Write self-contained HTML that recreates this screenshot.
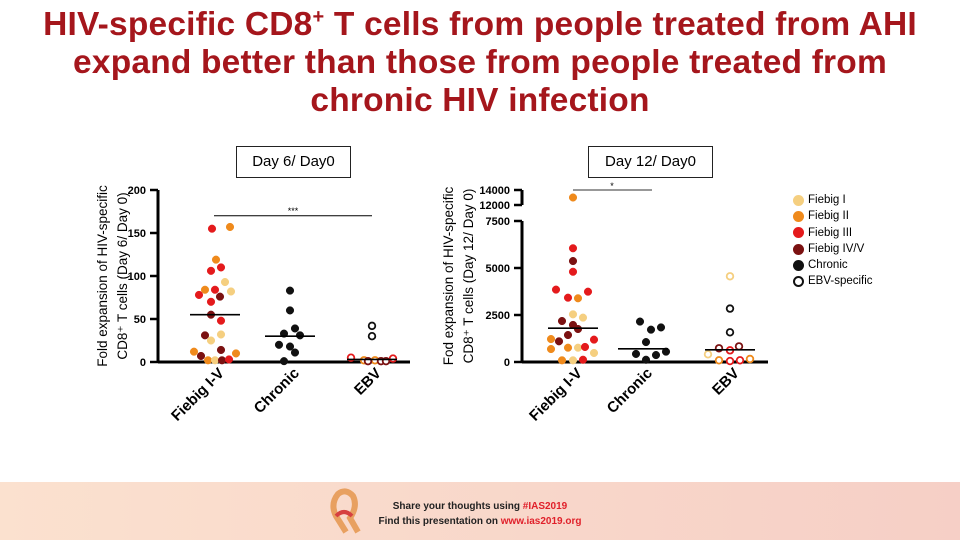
<!DOCTYPE html>
<html><head><meta charset="utf-8"><style>
body{margin:0;width:960px;height:540px;overflow:hidden;background:#fff;font-family:"Liberation Sans",sans-serif;position:relative}
.title{position:absolute;left:0;top:-2px;width:960px;text-align:center;color:#a5161c;font-weight:bold;font-size:33.5px;line-height:38px;letter-spacing:0.2px}
.box{position:absolute;border:1px solid #222;font-size:15px;text-align:center;line-height:30px;height:30px}
.footer{position:absolute;left:0;top:482px;width:960px;height:58px;background:linear-gradient(90deg,#fbe1cf,#f6cfc6)}
.legend{position:absolute;left:793px;top:192px;font-size:11.5px;line-height:16.3px}
.legend div{display:flex;align-items:center}
.legend i{display:inline-block;width:11px;height:11px;border-radius:50%;margin-right:4px;box-sizing:border-box}
</style></head><body>
<div class="title">HIV-specific CD8<sup style="font-size:20px">+</sup> T cells from people treated from AHI<br>expand better than those from people treated from<br>chronic HIV infection</div>
<div class="box" style="left:236px;top:146px;width:113px">Day 6/ Day0</div>
<div class="box" style="left:588px;top:146px;width:123px">Day 12/ Day0</div>
<div class="legend">
<div><i style="background:#f5cf80"></i>Fiebig I</div>
<div><i style="background:#ef8a1c"></i>Fiebig II</div>
<div><i style="background:#e41a1c"></i>Fiebig III</div>
<div><i style="background:#7b1111"></i>Fiebig IV/V</div>
<div><i style="background:#111"></i>Chronic</div>
<div><i style="border:2.5px solid #111"></i>EBV-specific</div>
</div>
<svg id="chart" width="960" height="540" style="position:absolute;left:0;top:0"></svg>
<div class="footer">
<svg width="40" height="50" style="position:absolute;left:326px;top:4px"><path d="M20 46 L10 30 Q4 18 12 8 Q20 2 27 10 Q32 20 24 32 L32 46" fill="none" stroke="#e8a060" stroke-width="6"/><path d="M10 30 Q18 22 26 30" fill="none" stroke="#d64040" stroke-width="4"/></svg>
<div style="position:absolute;left:360px;top:17px;width:240px;text-align:center;font-weight:bold;font-size:10px;line-height:15px;color:#222">Share your thoughts using <span style="color:#e0202a">#IAS2019</span><br>Find this presentation on <span style="color:#e0202a">www.ias2019.org</span></div>
</div>
<script>
// colors: L light, O orange, R red, D dark red, K black; open = hollow
const c1Cats=["Fiebig I-V","Chronic","EBV"];
const c1Values=[[155,157,119,106,110,93,82,84,84,78,76,70,55,48,31,32,25,12,7,14,10,2,2,2,3],[83,60,39,33,31,20,18,11,1],[42,30,5,2,2,1,1,1,4]];
const c1Jitter=[[-3,15,1,-4,6,10,16,-10,0,-16,5,-4,-4,6,-10,6,-4,-21,-14,6,21,-7,0,7,14],[0,0,5,-6,10,-11,0,5,-6],[0,0,-21,-8,3,-4,9,14,21]];
const c1Colors=[["R","O","O","R","R","L","L","O","R","R","D","R","D","R","D","L","L","O","D","D","O","O","L","D","R"],["K","K","K","K","K","K","K","K","K"],["K","K","R","O","O","D","D","D","R"]];
const c1Open=[false,false,true];
const c1Medians=[55,30,3];
const c1Ticks=[0,50,100,150,200];
const c2Cats=["Fiebig I-V","Chronic","EBV"];
const c2Values=[[13000,6050,5370,4800,3850,3420,3390,3740,2535,2360,2180,1970,1755,1435,1220,1190,1100,690,760,760,800,480,90,90,120],[2150,1720,1840,1060,430,370,550,120],[4560,2840,1580,730,620,830,410,90,50,90,160]];
const c2Jitter=[[0,0,0,0,-17,-5,5,15,0,10,-11,0,5,-5,-22,21,-14,-22,-5,5,12,21,-11,0,10],[-3,8,18,3,-7,13,23,3],[0,0,0,-11,0,9,-22,-11,0,10,20]];
const c2Colors=[["O","R","D","R","R","R","O","R","L","L","D","D","D","D","O","R","D","O","O","L","R","L","O","L","R"],["K","K","K","K","K","K","K","K"],["L","K","K","D","R","D","L","O","R","R","O"]];
const c2Open=[false,false,true];
const c2Medians=[1800,700,650];
const c2Ticks=[0,2500,5000,7500];
const c2UpperTicks=[12000,14000];
const COL={L:"#f5cf80",O:"#ef8a1c",R:"#e41a1c",D:"#7b1111",K:"#111"};
const NS="http://www.w3.org/2000/svg",svg=document.getElementById('chart');
function mk(t,a,p){const e=document.createElementNS(NS,t);for(const k in a)e.setAttribute(k,a[k]);(p||svg).appendChild(e);return e;}
function y1(v){return 362-v*0.86;}
function y2(v){return v<=7500?362-v*141/7500:205-(v-12000)*15/2000;}
function drawChart(ax,y,cats,cx,vals,jit,cols,open,meds,ticks,name){
  const g=mk('g',{});
  
  
  mk('line',{x1:ax,y1:y(0),x2:cx[2]+38,y2:y(0),stroke:'#000','stroke-width':3},g);
  ticks.forEach(t=>{mk('line',{x1:ax-8,y1:y(t),x2:ax,y2:y(t),stroke:'#000','stroke-width':2.5},g);
    const tx=mk('text',{x:ax-12,y:y(t)+4,'text-anchor':'end','font-size':11,'font-weight':'bold'},g);tx.textContent=t;
    });
  cats.forEach((c,i)=>{
    const t=mk('text',{x:cx[i]+10,y:y(0)+12,'text-anchor':'end','font-size':15,'font-weight':'bold',transform:`rotate(-45 ${cx[i]+10} ${y(0)+12})`},g);t.textContent=c;
    
    vals[i].forEach((v,j)=>{const col=COL[cols[i][j]];
      const p=mk('circle',{cx:cx[i]+jit[i][j],cy:y(v),r:open[i]?3.3:3.8,fill:open[i]?'#fff':col,stroke:col,'stroke-width':open[i]?1.8:0.5},g);
      });
    const m=mk('line',{x1:cx[i]-25,y1:y(meds[i]),x2:cx[i]+25,y2:y(meds[i]),stroke:'#000','stroke-width':1.6},g);
    
  });
  return g;
}
const g1=drawChart(158,y1,c1Cats,[215,290,372],c1Values,c1Jitter,c1Colors,c1Open,c1Medians,c1Ticks,'day6-chart');
mk('line',{x1:158,y1:y1(200),x2:158,y2:y1(0),stroke:'#000','stroke-width':3},g1);
mk('line',{x1:214,y1:y1(170),x2:372,y2:y1(170),stroke:'#000','stroke-width':1},g1);
let s=mk('text',{x:293,y:y1(170)-2,'text-anchor':'middle','font-size':9},g1);s.textContent='***';
const g2=drawChart(522,y2,c2Cats,[573,643,730],c2Values,c2Jitter,c2Colors,c2Open,c2Medians,c2Ticks,'day12-chart');
mk('line',{x1:522,y1:y2(7500),x2:522,y2:y2(0),stroke:'#000','stroke-width':3},g2);
mk('line',{x1:522,y1:y2(14000),x2:522,y2:y2(12000),stroke:'#000','stroke-width':3},g2);
c2UpperTicks.forEach(t=>{mk('line',{x1:514,y1:y2(t),x2:522,y2:y2(t),stroke:'#000','stroke-width':2.5},g2);
  const tx=mk('text',{x:510,y:y2(t)+4,'text-anchor':'end','font-size':11,'font-weight':'bold'},g2);tx.textContent=t;});
mk('line',{x1:573,y1:190,x2:652,y2:190,stroke:'#777','stroke-width':1.5},g2);
s=mk('text',{x:612,y:189,'text-anchor':'middle','font-size':9},g2);s.textContent='*';
[[107,'Fold expansion of HIV-specific'],[127,'CD8⁺ T cells (Day 6/ Day 0)'],[453,'Fod expansion of HIV-specific'],[473,'CD8⁺ T cells (Day 12/ Day 0)']].forEach(([x,t],i)=>{
  const cy=276;const e=mk('text',{x:x,y:cy,'text-anchor':'middle','font-size':13.5,transform:`rotate(-90 ${x} ${cy})`});e.textContent=t;
  });
</script>
</body></html>
